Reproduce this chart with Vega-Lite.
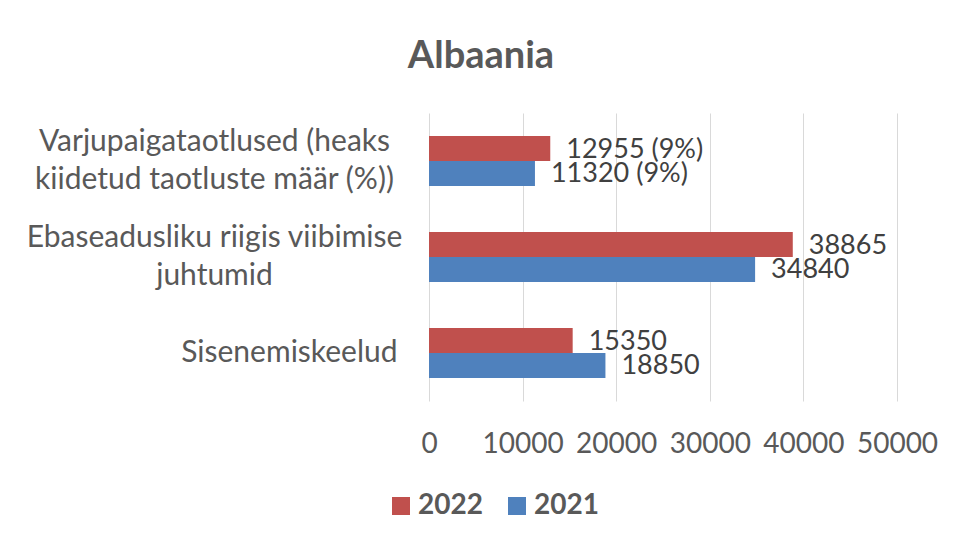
{
  "$schema": "https://vega.github.io/schema/vega-lite/v6.json",
  "width": 468,
  "height": 288,
  "autosize": {"type": "none"},
  "padding": {"left": 429, "top": 113, "right": 58, "bottom": 143},
  "background": "white",
  "title": {"text": "Albaania", "font": "Lato", "fontSize": 38, "fontWeight": "bold", "color": "#595959", "anchor": "middle", "dx": -182, "offset": 7, "baseline": "alphabetic"},
  "data": {"values": [
    {"category": "Varjupaigataotlused (heaks kiidetud taotluste määr (%))", "year": "2022", "value": 12955, "label": "12955 (9%)"},
    {"category": "Varjupaigataotlused (heaks kiidetud taotluste määr (%))", "year": "2021", "value": 11320, "label": "11320 (9%)"},
    {"category": "Ebaseadusliku riigis viibimise juhtumid", "year": "2022", "value": 38865, "label": "38865"},
    {"category": "Ebaseadusliku riigis viibimise juhtumid", "year": "2021", "value": 34840, "label": "34840"},
    {"category": "Sisenemiskeelud", "year": "2022", "value": 15350, "label": "15350"},
    {"category": "Sisenemiskeelud", "year": "2021", "value": 18850, "label": "18850"}
  ]},
  "encoding": {
    "y": {
      "field": "category", "type": "nominal", "sort": null,
      "scale": {"paddingInner": 0.48, "paddingOuter": 0.24},
      "axis": {
        "title": null, "domain": false, "ticks": false, "grid": false,
        "labelFont": "Lato", "labelFontSize": 30, "labelColor": "#595959",
        "labelLineHeight": 38, "labelLimit": 1000,
        "labelExpr": "datum.value == 'Varjupaigataotlused (heaks kiidetud taotluste määr (%))' ? ['Varjupaigataotlused (heaks', 'kiidetud taotluste määr (%))'] : datum.value == 'Ebaseadusliku riigis viibimise juhtumid' ? ['Ebaseadusliku riigis viibimise', 'juhtumid'] : datum.value",
        "labelAlign": {"condition": {"test": "datum.value == 'Sisenemiskeelud'", "value": "right"}, "value": "center"},
        "labelPadding": {"condition": {"test": "datum.value == 'Sisenemiskeelud'", "value": 32}, "value": 215},
        "labelOffset": {"condition": {"test": "datum.value == 'Sisenemiskeelud'", "value": 0}, "value": -19}
      }
    },
    "yOffset": {"field": "year", "type": "nominal", "sort": ["2022", "2021"]},
    "x": {
      "field": "value", "type": "quantitative",
      "scale": {"domain": [0, 50000]},
      "axis": {
        "title": null, "domain": false, "ticks": false, "grid": true,
        "gridColor": "#D9D9D9", "gridWidth": 1,
        "values": [0, 10000, 20000, 30000, 40000, 50000], "format": "d",
        "labelFont": "Lato", "labelFontSize": 28, "labelColor": "#595959",
        "labelPadding": 29, "labelFlush": false, "labelOverlap": false
      }
    }
  },
  "layer": [
    {
      "mark": {"type": "bar"},
      "encoding": {
        "color": {
          "field": "year", "type": "nominal",
          "scale": {"domain": ["2022", "2021"], "range": ["#C0504D", "#4F81BD"]},
          "legend": {
            "orient": "none", "legendX": -42, "legendY": 379, "direction": "horizontal",
            "title": null, "symbolType": "square", "symbolSize": 324, "symbolStrokeWidth": 0,
            "labelFont": "Lato", "labelFontSize": 28, "labelFontWeight": "bold", "labelColor": "#595959",
            "labelOffset": 3, "columnPadding": 20, "padding": 0
          }
        }
      }
    },
    {
      "mark": {"type": "text", "align": "left", "baseline": "middle", "dx": 16, "dy": 1, "font": "Lato", "fontSize": 27, "color": "#404040"},
      "encoding": {"text": {"field": "label"}}
    }
  ],
  "config": {"view": {"stroke": null}}
}
